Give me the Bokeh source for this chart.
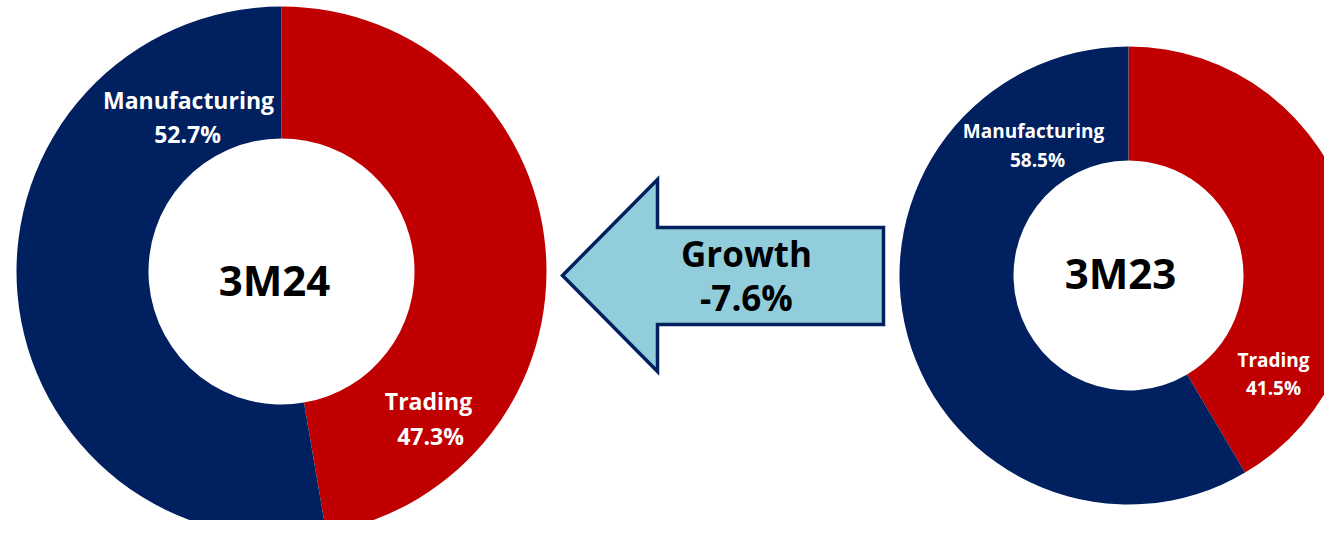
import math
from bokeh.plotting import figure
from bokeh.models import Range1d, ColumnDataSource
from bokeh.core.properties import value
from bokeh.embed import file_html
from bokeh.resources import INLINE

# ---- data ----
periods = ["3M24", "3M23"]
categories = ["Trading", "Manufacturing"]
share_3m24 = [47.3, 52.7]
share_3m23 = [41.5, 58.5]
growth_label = "Growth"
growth_value = -7.6

colors = {"Trading": "#C00000", "Manufacturing": "#002060"}
FONT = value("Open Sans")
SHIFT = 0.42  # empirical baseline correction (in em)

W, H = 1324, 520
p = figure(width=W, height=H, x_range=Range1d(0, W), y_range=Range1d(-H, 0),
           output_backend="svg", toolbar_location=None, min_border=0)
p.axis.visible = False
p.grid.visible = False
p.outline_line_color = None
p.background_fill_color = "white"


def label(x, y_base, txt, size, color):
    p.text(x=[x], y=[-(y_base - SHIFT * size)], text=[txt], text_font=FONT,
           text_font_style="bold", text_font_size=f"{size}px", text_color=color,
           text_align="center", text_baseline="alphabetic")


def donut(cx, cy, r_out, r_in, shares, period, label_pos, font_px, center_pos):
    starts, ends = [], []
    cum = 0.0
    total = sum(shares)
    for s in shares:
        a0 = math.pi / 2 - 2 * math.pi * cum / total
        cum += s
        a1 = math.pi / 2 - 2 * math.pi * cum / total
        starts.append(a0)
        ends.append(a1)
    src = ColumnDataSource(dict(x=[cx] * len(shares), y=[-cy] * len(shares),
                                start=starts, end=ends,
                                color=[colors[c] for c in categories]))
    p.annular_wedge(x="x", y="y", inner_radius=r_in, outer_radius=r_out,
                    start_angle="start", end_angle="end", direction="clock",
                    fill_color="color", line_color=None, source=src)
    for cat, s in zip(categories, shares):
        (lx, ly1), (vx, ly2) = label_pos[cat]
        label(lx, ly1, cat, font_px, "white")
        label(vx, ly2, f"{s:.1f}%", font_px, "white")
    label(center_pos[0], center_pos[1], period, 42, "black")


donut(281, 271, 265, 133, share_3m24, periods[0],
      {"Manufacturing": ((188, 109), (187, 143)), "Trading": ((428, 410), (430, 445))},
      23, (274, 297))
donut(1128, 275, 229, 115, share_3m23, periods[1],
      {"Manufacturing": ((1033, 138), (1037, 167)), "Trading": ((1273, 367), (1273, 395))},
      19, (1120, 290))

# arrow (pointing left)
ax = [562, 657, 657, 883, 883, 657, 657]
ay = [275, 179, 227, 227, 324, 324, 371]
p.patch(x=ax, y=[-v for v in ay], fill_color="#92CDDC", line_color="#002060",
        line_width=3.5, line_join="miter")
label(746, 268, growth_label, 35, "black")
label(746, 312, f"{growth_value:.1f}%", 35, "black")

open("out.html", "w").write(file_html(p, INLINE))
